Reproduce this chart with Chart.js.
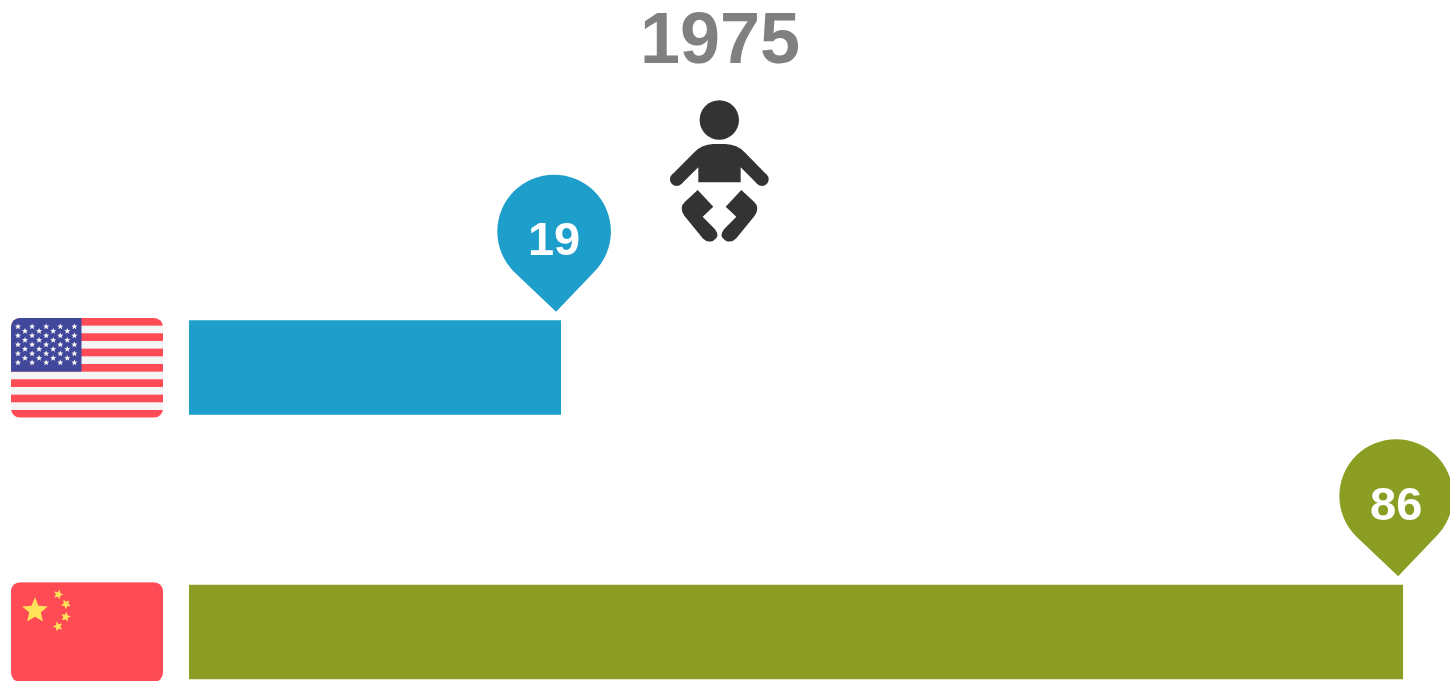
<!DOCTYPE html>
<html>
<head>
<meta charset="utf-8">
<style>html,body{margin:0;padding:0;background:#fff;overflow:hidden}canvas{display:block}</style>
<script src="https://cdn.jsdelivr.net/npm/chart.js@4/dist/chart.umd.min.js"></script>
</head>
<body>
<canvas id="c" width="1450" height="681"></canvas>
<script>
const yearLabel = '1975';
const countries = ['United States', 'China'];
const values = [19, 86];
const colors = ['#1e9ecb', '#8c9d23'];
const axisMin = -10.6;
const axisMax = 88.94;

function star(ctx, cx, cy, r, rot) {
  ctx.beginPath();
  for (let i = 0; i < 10; i++) {
    const a = rot - Math.PI / 2 + i * Math.PI / 5;
    const q = i % 2 ? r * 0.45 : r;
    ctx.lineTo(cx + q * Math.cos(a), cy + q * Math.sin(a));
  }
  ctx.closePath();
  ctx.fill();
}
function flagClip(ctx, x, y, w, h, r) {
  ctx.beginPath();
  ctx.roundRect(x, y, w, h, r);
  ctx.clip();
}
function drawUS(ctx, cy) {
  const x = 11, w = 152, h = 99.7, y = cy - h / 2 + 0.3, s = h / 13;
  ctx.save();
  flagClip(ctx, x, y, w, h, 9);
  ctx.fillStyle = '#f5f5f5';
  ctx.fillRect(x, y, w, h);
  ctx.fillStyle = '#ff4b55';
  for (let i = 0; i < 13; i += 2) ctx.fillRect(x, y + i * s, w, s);
  ctx.fillStyle = '#41479b';
  ctx.fillRect(x, y, 70.5, s * 7);
  ctx.fillStyle = '#f5f5f5';
  for (let row = 0; row < 9; row++) {
    const odd = row % 2 === 1;
    const n = odd ? 4 : 5;
    for (let k = 0; k < n; k++) {
      star(ctx, x + (odd ? 14 : 7) + k * 14.1, y + 8.7 + row * 4.5, 3.2, 0);
    }
  }
  ctx.restore();
}
function drawCN(ctx, cy) {
  const x = 11, w = 152, h = 99.7, y = cy - h / 2;
  ctx.save();
  flagClip(ctx, x, y, w, h, 9);
  ctx.fillStyle = '#ff4b55';
  ctx.fillRect(x, y, w, h);
  ctx.fillStyle = '#ffe15a';
  star(ctx, x + 24, y + 28.5, 13.5, 0);
  star(ctx, x + 47.3, y + 12.3, 5.2, 0.3);
  star(ctx, x + 55, y + 22, 5.2, 0.7);
  star(ctx, x + 54.7, y + 34.7, 5.2, 0.2);
  star(ctx, x + 47, y + 44.3, 5.2, -0.3);
  ctx.restore();
}
function drawBaby(ctx) {
  const ox = 650, oy = 90, k = 1 / 3;
  const P = (a, b) => [ox + a * k, oy + b * k];
  ctx.save();
  ctx.fillStyle = '#333333';
  // head
  ctx.beginPath();
  ctx.arc(719.3, 120, 19.7, 0, Math.PI * 2);
  ctx.fill();
  // torso with both arms
  ctx.beginPath();
  ctx.moveTo(...P(66, 254));
  ctx.lineTo(...P(133, 187));
  ctx.quadraticCurveTo(...P(155, 163), ...P(190, 162));
  ctx.lineTo(...P(226, 162));
  ctx.quadraticCurveTo(...P(262, 163), ...P(284, 187));
  ctx.lineTo(...P(350, 254));
  ctx.lineTo(...P(322, 282));
  ctx.lineTo(...P(272, 232));
  ctx.lineTo(...P(272, 277));
  ctx.lineTo(...P(145, 277));
  ctx.lineTo(...P(145, 232));
  ctx.lineTo(...P(94, 282));
  ctx.closePath();
  ctx.fill();
  [[80, 268], [336, 268]].forEach(c => {
    ctx.beginPath();
    ctx.arc(...P(c[0], c[1]), 20 * k, 0, Math.PI * 2);
    ctx.fill();
  });
  // legs, mirrored about the body axis
  [1, -1].forEach(d => {
    const X = a => (d === 1 ? a : 417 - a);
    ctx.beginPath();
    ctx.moveTo(...P(X(143), 300));
    ctx.lineTo(...P(X(190), 350));
    ctx.lineTo(...P(X(158), 380));
    ctx.lineTo(...P(X(195), 418));
    ctx.quadraticCurveTo(...P(X(212), 440), ...P(X(190), 452));
    ctx.quadraticCurveTo(...P(X(172), 460), ...P(X(158), 445));
    ctx.lineTo(...P(X(103), 377));
    ctx.quadraticCurveTo(...P(X(86), 352), ...P(X(105), 335));
    ctx.closePath();
    ctx.fill();
  });
  ctx.restore();
}

const pictures = {
  id: 'pictures',
  afterDatasetsDraw(chart) {
    const ctx = chart.ctx;
    const xs = chart.scales.x, ys = chart.scales.y;
    drawBaby(ctx);
    const painters = [drawUS, drawCN];
    countries.forEach((c, i) => {
      const cy = ys.getPixelForValue(i);
      painters[i](ctx, cy);
      const right = xs.getPixelForValue(values[i]);
      const r = 56.8;
      const px = right - 6.9, py = cy - 136;
      ctx.save();
      ctx.fillStyle = colors[i];
      ctx.beginPath();
      ctx.arc(px, py, r, Math.PI * 0.75, Math.PI * 0.25);
      ctx.lineTo(px + 2, py + r * Math.SQRT2);
      ctx.closePath();
      ctx.fill();
      ctx.fillStyle = '#ffffff';
      ctx.font = 'bold 47px "Liberation Sans", Arial, sans-serif';
      ctx.textAlign = 'center';
      ctx.textBaseline = 'middle';
      ctx.fillText(String(values[i]), px, py + 10.8);
      ctx.restore();
    });
  }
};

new Chart(document.getElementById('c'), {
  type: 'bar',
  data: {
    labels: countries,
    datasets: [{
      data: values,
      backgroundColor: colors,
      base: axisMin,
      barThickness: 94.5,
      clip: false,
      inflateAmount: 0
    }]
  },
  options: {
    indexAxis: 'y',
    responsive: false,
    animation: false,
    layout: { padding: { left: 0, right: 10, top: 0, bottom: 49 } },
    plugins: {
      legend: { display: false },
      tooltip: { enabled: false },
      title: {
        display: true,
        text: yearLabel,
        color: '#808080',
        font: { family: '"Liberation Sans", Arial, sans-serif', size: 72, weight: 'bold', lineHeight: 1 },
        padding: { top: 7, bottom: 288.5 }
      }
    },
    scales: {
      x: { type: 'linear', display: false, min: axisMin, max: axisMax },
      y: {
        type: 'category',
        offset: false,
        grid: { display: false },
        border: { display: false },
        ticks: { display: false },
        afterFit(s) { s.width = 189; }
      }
    }
  },
  plugins: [pictures]
});
</script>
</body>
</html>
